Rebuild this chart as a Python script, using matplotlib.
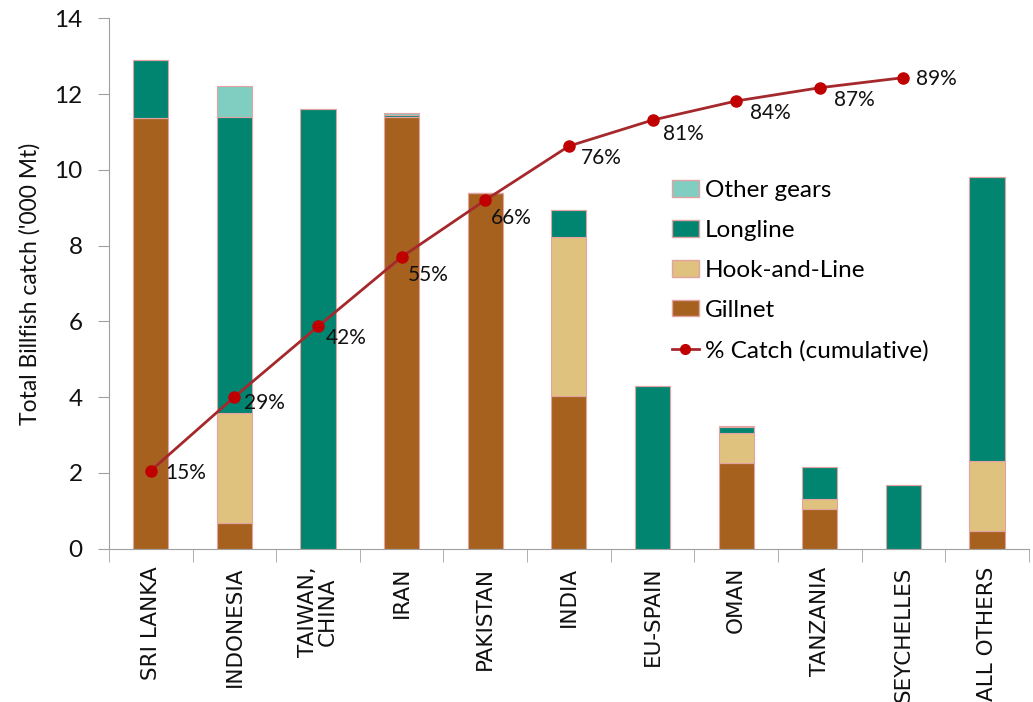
import matplotlib
matplotlib.use("Agg")
import matplotlib.pyplot as plt
from matplotlib.patches import Patch
from matplotlib.lines import Line2D
import numpy as np

categories = ["SRI LANKA", "INDONESIA", "TAIWAN,\nCHINA", "IRAN", "PAKISTAN", "INDIA",
              "EU-SPAIN", "OMAN", "TANZANIA", "SEYCHELLES", "ALL OTHERS"]
gillnet = [11.36, 0.68, 0.0, 11.40, 9.39, 4.03, 0.0, 2.27, 1.05, 0.0, 0.47]
hook_and_line = [0.0, 2.91, 0.0, 0.0, 0.0, 4.20, 0.0, 0.77, 0.25, 0.0, 1.85]
longline = [1.55, 7.81, 11.61, 0.05, 0.0, 0.72, 4.29, 0.17, 0.86, 1.69, 7.48]
other_gears = [0.0, 0.80, 0.0, 0.04, 0.0, 0.0, 0.0, 0.02, 0.0, 0.0, 0.0]
pct_cumulative = [14.7, 28.6, 41.9, 55.0, 65.7, 75.9, 80.8, 84.4, 86.9, 88.8]
pct_labels = ["15%", "29%", "42%", "55%", "66%", "76%", "81%", "84%", "87%", "89%"]

plt.rcParams['font.family'] = ['Lato', 'DejaVu Sans']

fig = plt.figure(figsize=(10.33, 7.02), dpi=100)
ax = fig.add_axes([0.1055, 0.2185, 0.8905, 0.7555])

c_gill = "#A6611E"
c_hook = "#DFC27D"
c_long = "#018571"
c_other = "#80CDC1"
edge = "#E3A3A3"

x = np.arange(len(categories))
w = 0.42
b = np.zeros(len(categories))
for vals, col in [(gillnet, c_gill), (hook_and_line, c_hook), (longline, c_long), (other_gears, c_other)]:
    v = np.array(vals)
    ax.bar(x, v, w, bottom=b, color=col, edgecolor=edge, linewidth=0.8, zorder=2)
    b += v

ax.set_xlim(-0.5, len(categories) - 0.5)
ax.set_ylim(0, 14)
ax.set_yticks(range(0, 15, 2))
ax.tick_params(axis='y', labelsize=17.5, length=8, color="#A0A0A0", labelcolor="#111111", pad=11)
ax.set_xticks(x)
ax.set_xticklabels(categories, rotation=90, fontsize=15.5, family=['DejaVu Sans'],
                   linespacing=1.0, color="#111111")
ax.tick_params(axis='x', which='major', length=0, pad=13)
ax.set_xticks(np.arange(-0.5, len(categories), 1.0), minor=True)
ax.tick_params(axis='x', which='minor', length=9, color="#A0A0A0")
for s in ["top", "right"]:
    ax.spines[s].set_visible(False)
for s in ["left", "bottom"]:
    ax.spines[s].set_color("#A0A0A0")
ax.set_ylabel("Total Billfish catch ('000 Mt)", fontsize=16.5, color="#111111", labelpad=10)

ax2 = ax.twinx()
ax2.set_ylim(0, 100)
ax2.axis('off')
line_color = "#A5282C"
ax2.plot(x[:len(pct_cumulative)], pct_cumulative, color=line_color, lw=2,
         marker='o', markersize=8, markerfacecolor="#C00000", markeredgecolor="#C00000", zorder=5)

offsets = [(14, -2), (10, -6), (8, -12), (6, -18), (6, -18), (12, -12), (10, -14), (14, -12), (14, -12), (13, -1)]
for xi, p, lab, off in zip(x, pct_cumulative, pct_labels, offsets):
    ax2.annotate(lab, (xi, p), xytext=off, textcoords='offset pixels',
                 ha='left', va='center', fontsize=15, color="#111111")

handles = [
    Patch(facecolor=c_other, edgecolor=edge, label="Other gears"),
    Patch(facecolor=c_long, edgecolor=edge, label="Longline"),
    Patch(facecolor=c_hook, edgecolor=edge, label="Hook-and-Line"),
    Patch(facecolor=c_gill, edgecolor=edge, label="Gillnet"),
    Line2D([0], [0], color=line_color, lw=2, marker='o', markersize=7,
           markerfacecolor="#C00000", markeredgecolor="#C00000", label="% Catch (cumulative)"),
]
leg = ax2.legend(handles=handles, loc='upper left', bbox_to_anchor=(0.612, 0.695),
                 frameon=False, fontsize=17.5, handlelength=1.1, handleheight=0.65,
                 handletextpad=0.25, labelspacing=0.78, borderaxespad=0, borderpad=0)

fig.savefig("out.png", dpi=100)
